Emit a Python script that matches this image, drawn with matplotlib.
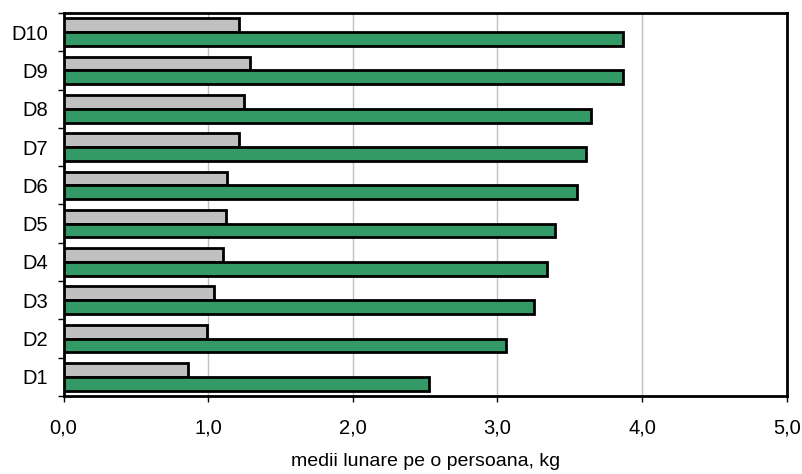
import numpy as np
import matplotlib
matplotlib.use('Agg')
import matplotlib.pyplot as plt
from matplotlib.ticker import FixedLocator, FuncFormatter, NullFormatter

plt.rcParams['font.family'] = ['Liberation Sans', 'DejaVu Sans']

deciles = ['D1', 'D2', 'D3', 'D4', 'D5', 'D6', 'D7', 'D8', 'D9', 'D10']
gray_vals = [0.86, 0.99, 1.04, 1.10, 1.12, 1.13, 1.21, 1.25, 1.29, 1.21]
green_vals = [2.53, 3.06, 3.25, 3.34, 3.40, 3.55, 3.61, 3.65, 3.87, 3.87]

fig = plt.figure(figsize=(8.03, 4.74), dpi=100)
ax = fig.add_axes([0.0792, 0.1646, 0.9005, 0.808])

y = np.arange(len(deciles))
h = 0.36
ax.barh(y + h / 2, gray_vals, height=h, color='#c0c0c0', edgecolor='black', linewidth=2, zorder=3)
ax.barh(y - h / 2, green_vals, height=h, color='#339966', edgecolor='black', linewidth=2, zorder=3)

ax.set_xlim(0, 5)
ax.set_ylim(-0.5, len(deciles) - 0.5)

ax.set_xticks(np.arange(0, 6, 1))
ax.xaxis.set_major_formatter(FuncFormatter(lambda v, p: ('%.1f' % v).replace('.', ',')))
ax.grid(axis='x', color='#c0c0c0', linewidth=1, zorder=0)

# y ticks at category boundaries, labels at centers
ax.yaxis.set_major_locator(FixedLocator(np.arange(-0.5, len(deciles), 1)))
ax.yaxis.set_major_formatter(NullFormatter())
ax.yaxis.set_minor_locator(FixedLocator(y))
ax.set_yticklabels(deciles, minor=True)
ax.tick_params(axis='y', which='minor', length=0, labelsize=14.5, pad=11.5)
ax.tick_params(axis='y', which='major', length=4, width=1)
ax.tick_params(axis='x', length=4, width=1, labelsize=14.5, pad=12.5)

for s in ax.spines.values():
    s.set_linewidth(2)

ax.set_xlabel('medii lunare pe o persoana, kg', fontsize=14, labelpad=11)

fig.savefig('out.png', dpi=100)
